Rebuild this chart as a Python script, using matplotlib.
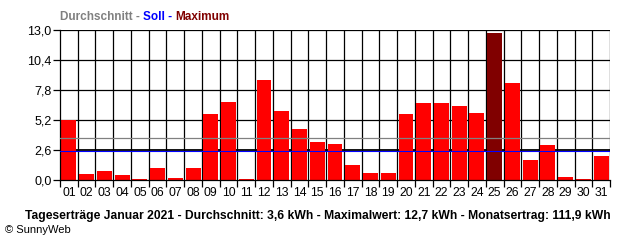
import matplotlib
matplotlib.use("Agg")
import matplotlib.pyplot as plt
import numpy as np

# Tageserträge Januar 2021 (kWh)
days = [f"{d:02d}" for d in range(1, 32)]
ertrag = [5.2, 0.5, 0.8, 0.4, 0.1, 1.0, 0.2, 1.0, 5.7, 6.8,
          0.1, 8.7, 6.0, 4.4, 3.3, 3.1, 1.3, 0.6, 0.6, 5.7,
          6.7, 6.7, 6.4, 5.8, 12.7, 8.4, 1.7, 3.0, 0.3, 0.1, 2.1]
durchschnitt = 3.6
soll = 2.5
y_ticks = [0.0, 2.6, 5.2, 7.8, 10.4, 13.0]
y_labels = ["0,0", "2,6", "5,2", "7,8", "10,4", "13,0"]

plt.rcParams["font.family"] = ["Liberation Sans", "DejaVu Sans"]

fig = plt.figure(figsize=(6.4, 2.4), dpi=100)
ax = fig.add_axes([60 / 640, 60 / 240, 550 / 640, 150 / 240])

x = np.arange(1, 32)
imax = int(np.argmax(ertrag))
colors = ["#ff0000"] * len(ertrag)
colors[imax] = "#800000"
ax.bar(x, ertrag, width=0.84, color=colors, zorder=2)

# grid
for yt in y_ticks[1:]:
    ax.axhline(yt, color="black", lw=0.9 if yt != 2.6 else 1.3, zorder=1)
for xb in np.arange(1.5, 32.5, 1.0):
    ax.axvline(xb, color="black", lw=0.9, zorder=1)

ax.axhline(durchschnitt, color="#808080", lw=0.9, zorder=3)
ax.axhline(soll, color="#0000ff", lw=0.8, zorder=3)

ax.set_xlim(0.5, 31.5)
ax.set_ylim(0, 13.0)
for s in ["top", "right"]:
    ax.spines[s].set_visible(False)
ax.spines["left"].set_linewidth(0.9)
ax.spines["bottom"].set_linewidth(0.9)

ax.set_yticks(y_ticks)
ax.set_yticklabels(y_labels, fontsize=9)
ax.tick_params(axis="y", length=5, width=0.9, pad=1)
ax.set_xticks(np.arange(0.5, 32.5, 1.0))
ax.set_xticklabels([])
ax.tick_params(axis="x", which="major", length=5, width=0.9)
ax.set_xticks(x, minor=True)
ax.set_xticklabels(days, minor=True, fontsize=8.8)
ax.tick_params(axis="x", which="minor", length=0, pad=5)

# header in three colours
fig.canvas.draw()
r = fig.canvas.get_renderer()
xpos = 60 / 640
for txt, col in [("Durchschnitt - ", "#808080"), ("Soll - ", "#0000ff"),
                 ("Maximum", "#800000")]:
    t = fig.text(xpos, 1 - 20 / 240, txt, color=col, fontsize=8.5,
                 fontweight="bold", va="baseline", ha="left")
    bb = t.get_window_extent(r)
    xpos += bb.width / fig.bbox.width

fig.text(0.497, 1 - 219 / 240,
         "Tageserträge Januar 2021 - Durchschnitt: 3,6 kWh - Maximalwert: 12,7 kWh - Monatsertrag: 111,9 kWh",
         fontsize=8.7, fontweight="bold", ha="center", va="baseline")
fig.text(5 / 640, 1 - 233 / 240, "© SunnyWeb", fontsize=8, ha="left", va="baseline")

fig.savefig("out.png", dpi=100)
